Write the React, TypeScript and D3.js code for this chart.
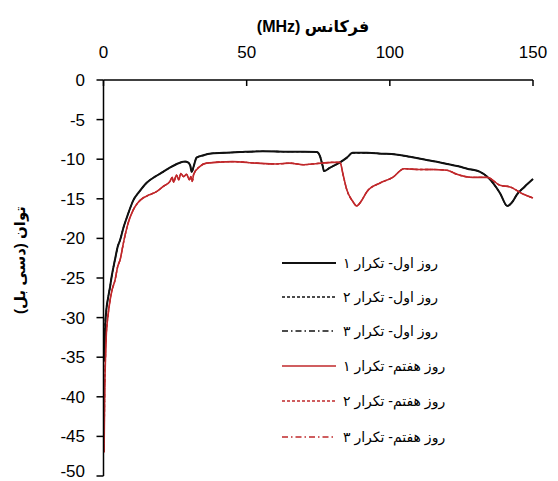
import React from "react";
import * as d3 from "d3";

const xTicks = [0, 50, 100, 150];
const yTicks = [0, -5, -10, -15, -20, -25, -30, -35, -40, -45, -50];

// Day 1 (black) frequency (MHz) and power (dB)
const day1Freq = [0.3, 0.6, 1, 1.6, 2.3, 3, 4, 5, 5.8, 7, 8.5, 10.4, 12.5, 15, 18, 20.8, 23, 25.6, 28.5, 29.5, 30.3, 30.8, 31.5, 32.5, 35, 37, 42, 47.7, 55.7, 65, 70, 74.5, 75.6, 76.5, 77, 79, 82.6, 85, 87, 92, 97, 102, 107, 111.6, 116, 120, 124, 127, 131.5, 134, 136, 138.5, 141, 143, 144.3, 147, 150];
const day1Rep1 = [-35.5, -31, -29, -27.5, -26.1, -24.5, -22.7, -21, -20.2, -18.6, -17, -15.2, -14.1, -13, -12.2, -11.6, -11.1, -10.6, -10.3, -10.4, -10.8, -11.6, -10.9, -9.8, -9.5, -9.3, -9.2, -9.1, -9.0, -9.05, -9.05, -9.1, -9.6, -10.8, -11.5, -11.1, -10.4, -9.8, -9.2, -9.2, -9.3, -9.4, -9.7, -10.0, -10.3, -10.6, -10.9, -11.2, -11.6, -12.2, -13.0, -14.3, -15.9, -15.3, -14.5, -13.5, -12.5];

// Day 7 (red)
const day7Freq = [0.2, 0.4, 0.7, 1, 1.5, 2.3, 3, 4, 5, 5.8, 7, 8.5, 10.4, 12, 13.8, 16, 18.5, 21, 23.2, 24, 24.5, 25.5, 26.3, 27, 28, 29, 30, 30.5, 31, 31.5, 33.7, 36, 45, 53.5, 60.5, 65, 70, 73, 76, 80, 82.6, 83.7, 85, 87, 88.4, 90, 92, 96.6, 101, 105, 110, 115, 120, 123.4, 129, 134, 138.5, 142, 146.5, 150];
const day7Rep1 = [-47, -40, -35, -32, -30, -27.8, -26.5, -25.3, -23.5, -22.7, -20.5, -18.2, -16.4, -15.5, -14.9, -14.5, -14.1, -13.4, -12.8, -12.3, -12.9, -12.0, -12.6, -11.8, -12.2, -11.9, -12.6, -12.2, -12.8, -11.9, -10.9, -10.5, -10.3, -10.5, -10.6, -10.5, -10.7, -10.6, -10.5, -10.4, -10.4, -12.0, -13.9, -15.3, -15.9, -15.3, -14.1, -13.0, -12.3, -11.2, -11.3, -11.3, -11.4, -11.9, -12.3, -12.3, -13.3, -13.5, -14.4, -14.9];

// Repetitions 2 and 3 overlap repetition 1 in the picture
const day1Rep2 = day1Rep1.slice();
const day1Rep3 = day1Rep1.slice();
const day7Rep2 = day7Rep1.slice();
const day7Rep3 = day7Rep1.slice();

const legendLabels = [
  "روز اول- تکرار ۱",
  "روز اول- تکرار ۲",
  "روز اول- تکرار ۳",
  "روز هفتم- تکرار ۱",
  "روز هفتم- تکرار ۲",
  "روز هفتم- تکرار ۳",
];

const BLACK = "#111111";
const RED = "#c0282b";

export default function App() {
  const W = 558, H = 481;
  const x = d3.scaleLinear().domain([0, 150]).range([103.5, 533]);
  const y = d3.scaleLinear().domain([0, -50]).range([80, 476]);
  const font = "'Liberation Sans', Arial, 'DejaVu Sans', sans-serif";

  const line = (xs: number[], ys: number[]) =>
    d3.line<number>().x((_, i) => x(xs[i])).y((d) => y(d)).curve(d3.curveMonotoneX)(ys) || "";

  const series = [
    { xs: day1Freq, ys: day1Rep1, color: BLACK, dash: "", w: 2 },
    { xs: day1Freq, ys: day1Rep2, color: BLACK, dash: "3,2", w: 1.3 },
    { xs: day1Freq, ys: day1Rep3, color: BLACK, dash: "6,3,1.5,3", w: 1.3 },
    { xs: day7Freq, ys: day7Rep1, color: RED, dash: "", w: 1.6 },
    { xs: day7Freq, ys: day7Rep2, color: RED, dash: "3,2", w: 1.3 },
    { xs: day7Freq, ys: day7Rep3, color: RED, dash: "6,3,1.5,3", w: 1.3 },
  ];
  const drawOrder = [1, 2, 4, 5, 0, 3];
  const legendY = [263, 297, 331, 366, 401, 437];

  return (
    <svg width={W} height={H} style={{ position: "absolute", left: 0, top: 0, background: "#fff" }}>
      <rect width={W} height={H} fill="#fff" />
      {drawOrder.map((k) => (
        <path key={k} d={line(series[k].xs, series[k].ys)} fill="none" stroke={series[k].color}
          strokeWidth={series[k].w} strokeDasharray={series[k].dash} strokeLinejoin="round" />
      ))}
      {/* axes */}
      <line x1={x(0)} x2={x(150)} y1={y(0)} y2={y(0)} stroke="#000" strokeWidth={1.5} />
      <line x1={x(0)} x2={x(0)} y1={y(0)} y2={y(-50)} stroke="#000" strokeWidth={1.5} />
      {xTicks.map((t) => (
        <g key={"x" + t}>
          <line x1={x(t)} x2={x(t)} y1={y(0)} y2={y(0) + 6} stroke="#000" strokeWidth={1.5} />
          <text x={x(t)} y={58} textAnchor="middle" fontFamily={font} fontSize={17} fill="#000">{t}</text>
        </g>
      ))}
      {yTicks.map((t) => (
        <g key={"y" + t}>
          <line x1={x(0) - 7} x2={x(0)} y1={y(t)} y2={y(t)} stroke="#000" strokeWidth={1.5} />
          <text x={85} y={Math.min(y(t) + 6, 477)} textAnchor="end" fontFamily={font} fontSize={17} fill="#000">{t}</text>
        </g>
      ))}
      <text x={313} y={32} textAnchor="middle" fontFamily={font} fontSize={16} fontWeight="bold" fill="#000">
        <tspan direction="rtl" unicodeBidi="embed">فرکانس (MHz)</tspan>
      </text>
      <text transform={`translate(25,260) rotate(-90)`} textAnchor="middle" fontFamily={font} fontSize={15} fontWeight="bold" fill="#000" direction="rtl">
        توان (دسی بل)
      </text>
      {/* legend */}
      {series.map((s, i) => (
        <g key={"l" + i}>
          <line x1={282} x2={336} y1={legendY[i]} y2={legendY[i]} stroke={s.color} strokeWidth={s.w} strokeDasharray={s.dash} />
          <text x={343} y={legendY[i] + 5} textAnchor="end" direction="rtl" fontFamily={font} fontSize={14} fill="#000">
            {legendLabels[i]}
          </text>
        </g>
      ))}
    </svg>
  );
}
